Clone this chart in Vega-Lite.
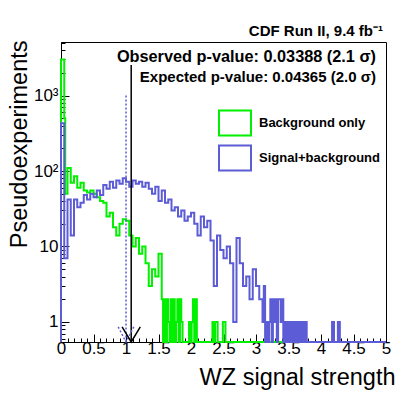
{
  "$schema": "https://vega.github.io/schema/vega-lite/v6.json",
  "width": 325,
  "height": 300,
  "autosize": "none",
  "padding": {"left": 61, "top": 42, "right": 21, "bottom": 51},
  "background": "white",
  "title": {"text": "CDF Run II, 9.4 fb⁻¹", "anchor": "end", "frame": "group", "font": "Liberation Sans", "fontSize": 15, "fontWeight": "bold", "color": "black", "baseline": "alphabetic", "offset": 11, "dx": -3, "dy": 28},
  "datasets": {
    "bg": [
      {"x":0,"n":0},{"x":0,"n":3000},{"x":0.05,"n":500},{"x":0.065,"n":50},{"x":0.1,"n":110},{"x":0.15,"n":70},{"x":0.2,"n":85},{"x":0.25,"n":60},{"x":0.3,"n":70},{"x":0.35,"n":55},{"x":0.4,"n":52},{"x":0.45,"n":55},{"x":0.5,"n":50},{"x":0.55,"n":45},{"x":0.6,"n":40},{"x":0.65,"n":38},{"x":0.7,"n":25},{"x":0.75,"n":28},{"x":0.8,"n":18},{"x":0.85,"n":14},{"x":0.9,"n":20},{"x":0.95,"n":23},{"x":1.0,"n":22},{"x":1.05,"n":14},{"x":1.1,"n":10},{"x":1.15,"n":13},{"x":1.2,"n":8},{"x":1.25,"n":10},{"x":1.3,"n":6},{"x":1.35,"n":3},{"x":1.4,"n":5},{"x":1.45,"n":4},{"x":1.5,"n":8},
      {"x":1.55,"n":2},{"x":1.57,"n":0},{"x":1.59,"n":2},{"x":1.61,"n":0},{"x":1.63,"n":2},{"x":1.65,"n":1},{"x":1.67,"n":0},{"x":1.69,"n":2},{"x":1.71,"n":0},{"x":1.73,"n":2},{"x":1.75,"n":0},{"x":1.77,"n":1},{"x":1.79,"n":2},{"x":1.81,"n":0},{"x":1.83,"n":2},{"x":1.85,"n":1},{"x":1.87,"n":0},{"x":1.89,"n":0},{"x":1.91,"n":0},{"x":1.93,"n":0},{"x":1.95,"n":0},{"x":1.97,"n":1},{"x":1.99,"n":0},{"x":2.01,"n":1},{"x":2.03,"n":2},{"x":2.05,"n":0},{"x":2.07,"n":2},{"x":2.09,"n":0},{"x":2.11,"n":0},{"x":2.15,"n":0},{"x":2.2,"n":0},{"x":2.25,"n":0},{"x":2.3,"n":0},{"x":2.33,"n":1},{"x":2.35,"n":0},{"x":2.37,"n":1},{"x":2.39,"n":1},{"x":2.41,"n":0},{"x":2.45,"n":0},{"x":2.49,"n":1},{"x":2.51,"n":1},{"x":2.53,"n":0},
      {"x":2.6,"n":0},{"x":2.65,"n":0},{"x":2.7,"n":0},{"x":2.75,"n":0},{"x":2.8,"n":0},{"x":2.85,"n":0},{"x":2.9,"n":0},{"x":2.95,"n":0},{"x":3.0,"n":0},{"x":3.05,"n":0},{"x":3.1,"n":0},{"x":3.15,"n":0},{"x":3.2,"n":0},{"x":3.25,"n":0},{"x":3.3,"n":0},{"x":3.35,"n":0},{"x":3.4,"n":0},{"x":3.45,"n":0},{"x":3.5,"n":0},{"x":3.55,"n":0},{"x":3.6,"n":0},{"x":3.65,"n":0},{"x":3.7,"n":0},{"x":3.75,"n":0},{"x":3.8,"n":0},{"x":3.85,"n":0},{"x":3.9,"n":0},{"x":3.95,"n":0},{"x":4.0,"n":0},{"x":4.05,"n":0},{"x":4.1,"n":0},{"x":4.15,"n":0},{"x":4.2,"n":0},{"x":4.25,"n":0},{"x":4.3,"n":0},{"x":4.35,"n":0},{"x":4.4,"n":0},{"x":4.45,"n":0},{"x":4.5,"n":0},{"x":4.55,"n":0},{"x":4.6,"n":0},{"x":4.65,"n":0},{"x":4.7,"n":0},{"x":4.75,"n":0},{"x":4.8,"n":0},{"x":4.85,"n":0},{"x":4.9,"n":0},{"x":4.95,"n":0},{"x":5.0,"n":0}
    ],
    "sb": [
      {"x":0,"n":0},{"x":0,"n":430},{"x":0.05,"n":7},{"x":0.1,"n":42},{"x":0.15,"n":14},{"x":0.2,"n":42},{"x":0.25,"n":33},{"x":0.3,"n":38},{"x":0.35,"n":48},{"x":0.4,"n":42},{"x":0.45,"n":50},{"x":0.5,"n":45},{"x":0.55,"n":55},{"x":0.6,"n":48},{"x":0.65,"n":65},{"x":0.7,"n":58},{"x":0.75,"n":72},{"x":0.8,"n":60},{"x":0.85,"n":75},{"x":0.9,"n":68},{"x":0.95,"n":80},{"x":1.0,"n":72},{"x":1.05,"n":62},{"x":1.1,"n":75},{"x":1.15,"n":68},{"x":1.2,"n":72},{"x":1.25,"n":62},{"x":1.3,"n":70},{"x":1.35,"n":58},{"x":1.4,"n":50},{"x":1.45,"n":62},{"x":1.5,"n":40},{"x":1.55,"n":55},{"x":1.6,"n":38},{"x":1.65,"n":42},{"x":1.7,"n":30},{"x":1.75,"n":33},{"x":1.8,"n":25},{"x":1.85,"n":30},{"x":1.9,"n":22},{"x":1.95,"n":25},{"x":2.0,"n":28},{"x":2.05,"n":20},{"x":2.1,"n":14},{"x":2.15,"n":25},{"x":2.2,"n":18},{"x":2.25,"n":22},{"x":2.3,"n":12},{"x":2.35,"n":3},{"x":2.4,"n":14},{"x":2.45,"n":9},{"x":2.5,"n":7},{"x":2.55,"n":10},{"x":2.6,"n":6},{"x":2.65,"n":1},{"x":2.7,"n":13},{"x":2.75,"n":6},{"x":2.8,"n":3},{"x":2.85,"n":4},{"x":2.9,"n":2},{"x":2.95,"n":5},{"x":3.0,"n":3},{"x":3.05,"n":2},
      {"x":3.1,"n":1},{"x":3.12,"n":3},{"x":3.14,"n":0},{"x":3.16,"n":1},{"x":3.18,"n":0},{"x":3.2,"n":1},{"x":3.22,"n":2},{"x":3.24,"n":0},{"x":3.26,"n":2},{"x":3.28,"n":1},{"x":3.3,"n":2},{"x":3.32,"n":0},{"x":3.34,"n":2},{"x":3.36,"n":2},{"x":3.38,"n":1},{"x":3.4,"n":2},{"x":3.42,"n":0},{"x":3.44,"n":1},{"x":3.46,"n":0},{"x":3.48,"n":1},{"x":3.5,"n":0},{"x":3.52,"n":1},{"x":3.54,"n":0},{"x":3.56,"n":1},{"x":3.58,"n":0},{"x":3.6,"n":1},{"x":3.62,"n":0},{"x":3.64,"n":1},{"x":3.66,"n":0},{"x":3.68,"n":1},{"x":3.7,"n":0},{"x":3.72,"n":1},{"x":3.74,"n":0},{"x":3.76,"n":1},{"x":3.78,"n":0},
      {"x":3.8,"n":0},{"x":3.85,"n":0},{"x":3.9,"n":0},{"x":3.95,"n":0},{"x":4.0,"n":0},{"x":4.05,"n":0},{"x":4.1,"n":0},{"x":4.15,"n":0},{"x":4.17,"n":1},{"x":4.2,"n":0},{"x":4.26,"n":1},{"x":4.29,"n":0},{"x":4.35,"n":0},{"x":4.4,"n":0},{"x":4.45,"n":0},{"x":4.5,"n":0},{"x":4.55,"n":0},{"x":4.6,"n":0},{"x":4.65,"n":0},{"x":4.7,"n":0},{"x":4.75,"n":0},{"x":4.8,"n":0},{"x":4.85,"n":0},{"x":4.9,"n":0},{"x":4.95,"n":0},{"x":5.0,"n":0}
    ],
    "obs": [{"x":1.08,"n":2535,"n2":0.543}],
    "exp": [{"x":1.0,"n":1000,"n2":0.543}],
    "obsArrow": [{"x":0.94,"n":0.86},{"x":1.08,"n":0.543},{"x":1.22,"n":0.86}],
    "expArrow": [{"x":0.88,"n":0.86},{"x":1.0,"n":0.543},{"x":1.12,"n":0.86}],
    "txtObs": [{"x":4.846,"n":2780,"t":"Observed p-value: 0.03388 (2.1 σ)"}],
    "txtExp": [{"x":4.846,"n":1510,"t":"Expected p-value: 0.04365 (2.0  σ)"}]
  },
  "encoding": {
    "x": {
      "field": "x", "type": "quantitative",
      "scale": {"domain": [0, 5], "nice": false, "zero": false},
      "axis": {
        "values": [0,0.1,0.2,0.3,0.4,0.5,0.6,0.7,0.8,0.9,1,1.1,1.2,1.3,1.4,1.5,1.6,1.7,1.8,1.9,2,2.1,2.2,2.3,2.4,2.5,2.6,2.7,2.8,2.9,3,3.1,3.2,3.3,3.4,3.5,3.6,3.7,3.8,3.9,4,4.1,4.2,4.3,4.4,4.5,4.6,4.7,4.8,4.9,5],
        "labelExpr": "round(datum.value*10)%5==0 ? ''+round(datum.value*10)/10 : ''",
        "tickSize": {"condition": {"test": "round(datum.value*10)%5==0", "value": -8}, "value": -4},
        "title": "WZ signal strength",
        "titleFont": "Liberation Sans", "titleFontSize": 23.5, "titleFontWeight": "normal",
        "titleAlign": "right", "titleBaseline": "alphabetic", "titleX": 334, "titleY": 42,
        "labelFont": "Liberation Sans", "labelFontSize": 17, "labelPadding": 6,
        "labelFlush": false, "labelOverlap": false, "labelBound": false,
        "grid": false
      }
    },
    "y": {
      "field": "n", "type": "quantitative",
      "scale": {"type": "log", "domain": [0.543, 5115], "clamp": true, "nice": false},
      "axis": {
        "values": [0.6,0.7,0.8,0.9,1,2,3,4,5,6,7,8,9,10,20,30,40,50,60,70,80,90,100,200,300,400,500,600,700,800,900,1000,2000,3000,4000,5000],
        "labelExpr": "datum.value==1?'1':datum.value==10?'10':datum.value==100?'10²':datum.value==1000?'10³':''",
        "tickSize": {"condition": {"test": "datum.value==1||datum.value==10||datum.value==100||datum.value==1000", "value": -8}, "value": -4},
        "title": "Pseudoexperiments",
        "titleFont": "Liberation Sans", "titleFontSize": 23.5, "titleFontWeight": "normal",
        "titleAngle": 270, "titleAlign": "right", "titleBaseline": "alphabetic", "titleX": -35, "titleY": -2,
        "labelFont": "Liberation Sans", "labelFontSize": 17, "labelPadding": 11,
        "labelOverlap": false, "labelBound": false,
        "grid": false
      }
    }
  },
  "layer": [
    {
      "data": {"name": "bg"},
      "mark": {"type": "line", "interpolate": "step-after", "strokeWidth": 2},
      "encoding": {
        "color": {
          "datum": "Background only", "type": "nominal",
          "scale": {"domain": ["Background only", "Signal+background"], "range": ["#00f000", "#5c5cd6"]},
          "legend": {
            "orient": "none", "legendX": 157, "legendY": 64, "title": null, "padding": 0,
            "symbolType": "M-1,-0.78H1V0.78H-1Z", "symbolSize": 1024, "symbolStrokeWidth": 2,
            "symbolFillColor": "white",
            "labelFont": "Liberation Sans", "labelFontSize": 13, "labelFontWeight": "bold", "labelColor": "black",
            "labelOffset": 7, "rowPadding": 1
          }
        }
      }
    },
    {
      "data": {"name": "sb"},
      "mark": {"type": "line", "interpolate": "step-after", "strokeWidth": 2},
      "encoding": {"color": {"datum": "Signal+background", "type": "nominal"}}
    },
    {
      "data": {"name": "exp"},
      "mark": {"type": "rule", "color": "#5c5cd6", "strokeWidth": 1.5, "strokeDash": [2, 2]},
      "encoding": {"y2": {"field": "n2"}}
    },
    {
      "data": {"name": "obs"},
      "mark": {"type": "rule", "color": "black", "strokeWidth": 1.5},
      "encoding": {"y2": {"field": "n2"}}
    },
    {
      "data": {"name": "expArrow"},
      "mark": {"type": "line", "color": "#5c5cd6", "strokeWidth": 1.5, "strokeDash": [2, 2]},
      "encoding": {}
    },
    {
      "data": {"name": "obsArrow"},
      "mark": {"type": "line", "color": "black", "strokeWidth": 1.5},
      "encoding": {}
    },
    {
      "data": {"name": "txtObs"},
      "mark": {"type": "text", "align": "right", "baseline": "alphabetic", "font": "Liberation Sans", "fontSize": 16.3, "fontWeight": "bold", "color": "black"},
      "encoding": {"text": {"field": "t"}}
    },
    {
      "data": {"name": "txtExp"},
      "mark": {"type": "text", "align": "right", "baseline": "alphabetic", "font": "Liberation Sans", "fontSize": 15, "fontWeight": "bold", "color": "black"},
      "encoding": {"text": {"field": "t"}}
    }
  ],
  "config": {
    "view": {"stroke": "black", "strokeWidth": 1},
    "axis": {"domainColor": "black", "tickColor": "black", "labelColor": "black", "titleColor": "black", "domainWidth": 1, "tickWidth": 1}
  }
}
